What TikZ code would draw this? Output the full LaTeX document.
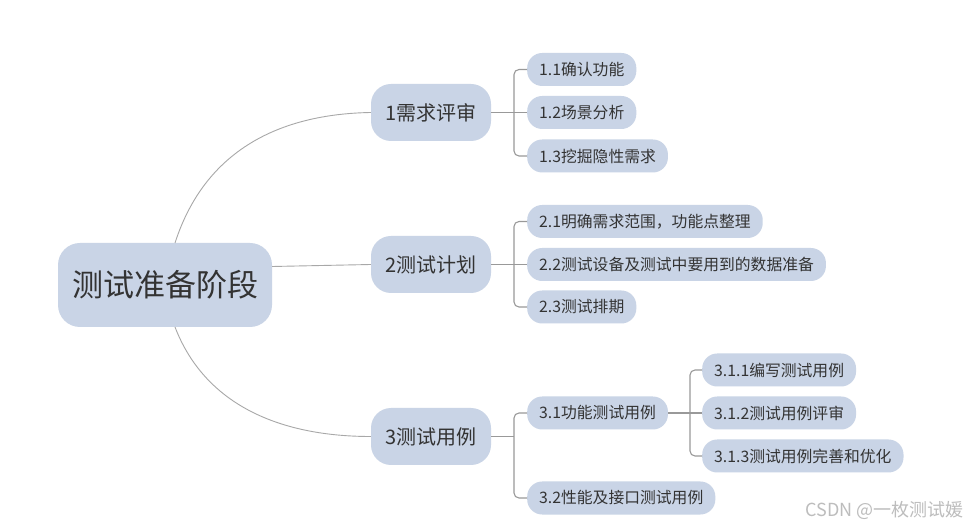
\documentclass[tikz,border=0pt]{standalone}
\usepackage{fontspec}
\setmainfont{Noto Sans CJK SC}
\definecolor{boxfill}{HTML}{C9D4E6}
\definecolor{txt}{HTML}{333333}
\definecolor{curve}{HTML}{A8A8A8}
\definecolor{brk}{HTML}{999999}
\definecolor{wm}{HTML}{BDBDBD}
\tikzset{
  rootbox/.style={fill=boxfill, rounded corners=22pt, minimum width=214pt, minimum height=84pt, font=\fontsize{31}{33}\selectfont, text=txt, inner sep=0pt},
  lvone/.style={fill=boxfill, rounded corners=20pt, minimum width=120pt, minimum height=57pt, font=\fontsize{20}{22}\selectfont, text=txt, inner sep=0pt},
  lvtwo/.style={fill=boxfill, rounded corners=15pt, minimum height=33pt, inner xsep=12pt, inner ysep=0pt, anchor=west, font=\fontsize{15.8}{17}\selectfont, text=txt},
  curvelink/.style={draw=curve, line width=0.9pt},
  bracket/.style={draw=brk, line width=1.1pt, rounded corners=5pt},
}
\begin{document}
\begin{tikzpicture}[x=1pt, y=-1pt]
\useasboundingbox (0,0) rectangle (967,526);
\fill[white] (0,0) rectangle (967,526);

\node[rootbox] (root) at (165,285) {测试准备阶段};
\node[lvone] (n1) at (431,112.5) {1需求评审};
\node[lvone] (n2) at (431,264.5) {2测试计划};
\node[lvone] (n3) at (431,436.5) {3测试用例};

\node[lvtwo] (c11) at (527,69.5) {1.1确认功能};
\node[lvtwo] (c12) at (527,112.5) {1.2场景分析};
\node[lvtwo] (c13) at (527,156) {1.3挖掘隐性需求};
\node[lvtwo] (c21) at (527,221.5) {2.1明确需求范围，功能点整理};
\node[lvtwo] (c22) at (527,264.5) {2.2测试设备及测试中要用到的数据准备};
\node[lvtwo] (c23) at (527,307) {2.3测试排期};
\node[lvtwo] (c31) at (527,413) {3.1功能测试用例};
\node[lvtwo] (c32) at (527,498) {3.2性能及接口测试用例};
\node[lvtwo] (c311) at (702,370) {3.1.1编写测试用例};
\node[lvtwo] (c312) at (702,413) {3.1.2测试用例评审};
\node[lvtwo] (c313) at (702,456) {3.1.3测试用例完善和优化};

\node[anchor=east, text=wm, font=\fontsize{18}{20}\selectfont, inner sep=0pt] (wmk) at (964,510) {CSDN @一枚测试媛};

% root links
\coordinate (r1) at (175,243);
\coordinate (r3) at (175,327);
\draw[curvelink] (r1) .. controls (205,150) and (280,114) .. (n1.west);
\draw[curvelink] (root.east |- 0,266.5) -- (n2.west);
\draw[curvelink] (r3) .. controls (205,405) and (280,436.5) .. (n3.west);

% brackets
\coordinate (j1) at (514,112.5);
\coordinate (j2) at (514,264.5);
\coordinate (j3) at (514,436.5);
\coordinate (j31) at (690,413);
\draw[bracket] (n1.east) -- (j1);
\draw[bracket] (c11.west) -| (j1) |- (c13.west);
\draw[bracket] (j1) -- (c12.west);
\draw[bracket] (n2.east) -- (j2);
\draw[bracket] (c21.west) -| (j2) |- (c23.west);
\draw[bracket] (j2) -- (c22.west);
\draw[bracket] (n3.east) -- (j3);
\draw[bracket] (c31.west) -| (j3) |- (c32.west);
\draw[bracket] (c31.east) -- (j31);
\draw[bracket] (c311.west) -| (j31) |- (c313.west);
\draw[bracket] (j31) -- (c312.west);
\end{tikzpicture}
\end{document}
